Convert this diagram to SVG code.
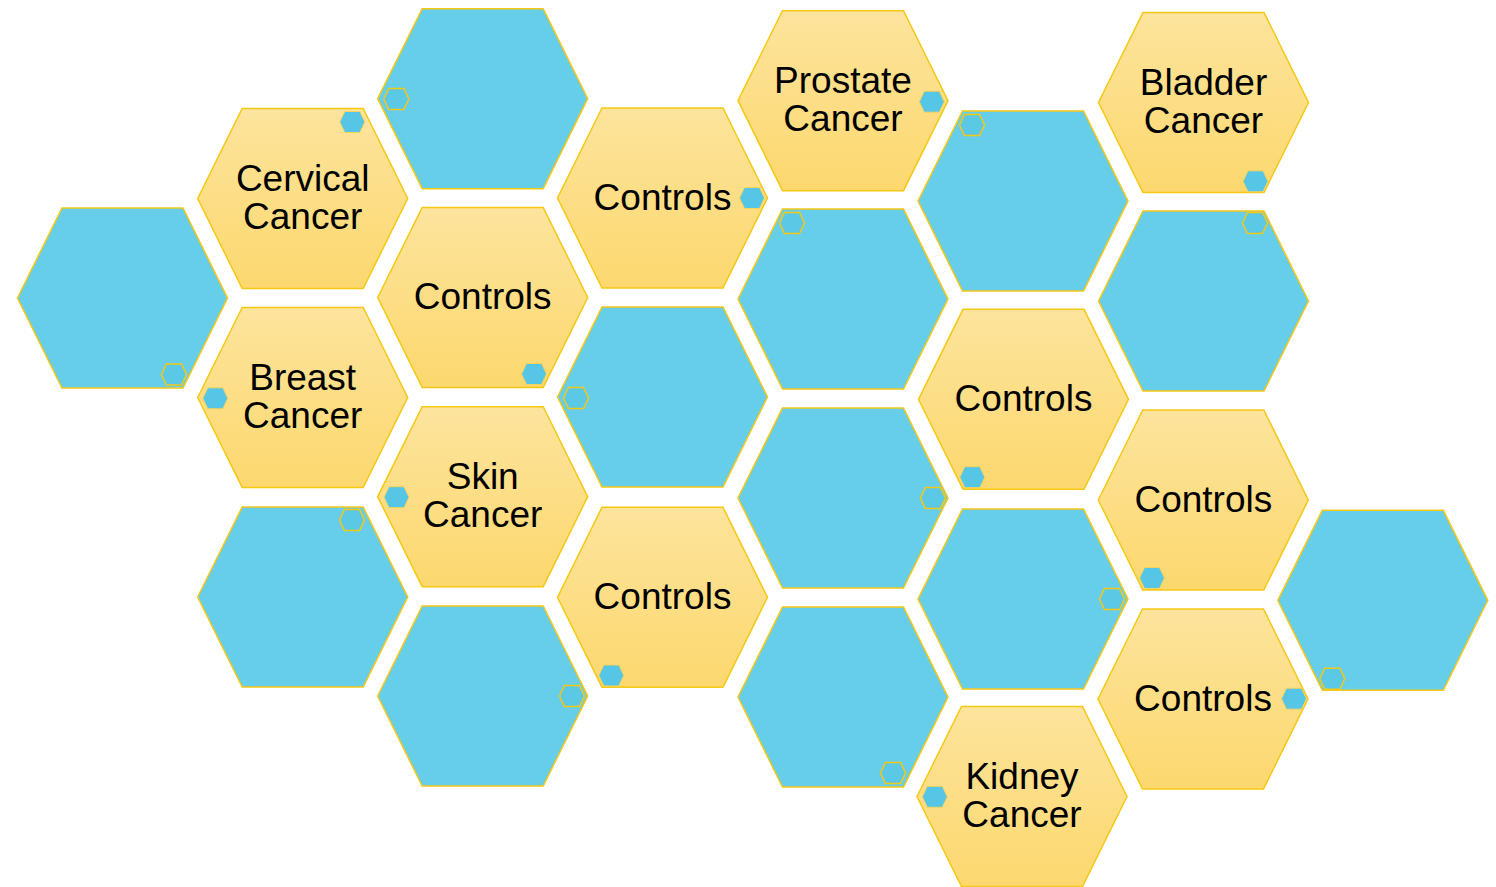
<svg xmlns="http://www.w3.org/2000/svg" xmlns:xlink="http://www.w3.org/1999/xlink" width="1496" height="887" viewBox="0 0 1496 887">
<style>
.b{fill:#66CEE8;stroke:#F5C814;stroke-width:1.5}
.y{fill:url(#yg);stroke:#F5C814;stroke-width:1.5}
.so{fill:#5BC8E6;stroke:#F5C814;stroke-width:1.5}
.sf{fill:#55C6E6;stroke:#F8D35A;stroke-width:1}
text{font-family:"Liberation Sans",Arial,sans-serif;font-size:37px;fill:#000;text-anchor:middle}
</style>
<defs>
<linearGradient id="yg" x1="0" y1="0" x2="0" y2="1">
<stop offset="0" stop-color="#FDE49D"/>
<stop offset="1" stop-color="#FCD86E"/>
</linearGradient>
<path id="hx" d="M-105,0 L-60.5,-90 L60.5,-90 L105,0 L60.5,90 L-60.5,90 Z"/>
<path id="sh" d="M-12.5,0 L-7.5,-10.5 L7.5,-10.5 L12.5,0 L7.5,10.5 L-7.5,10.5 Z"/>
</defs>
<rect width="1496" height="887" fill="#fff"/>
<g id="connectors"/>

<g id="n-c0-blue"><use xlink:href="#hx" class="b" x="122.5" y="298"/><use xlink:href="#sh" class="so" x="174" y="374.5"/></g>

<g id="n-cervical"><use xlink:href="#hx" class="y" x="302.7" y="198.5"/><use xlink:href="#sh" class="sf" x="352.3" y="122"/><text x="302.7" y="190.5">Cervical</text><text x="302.7" y="229">Cancer</text></g>
<g id="n-breast"><use xlink:href="#hx" class="y" x="302.7" y="397.5"/><use xlink:href="#sh" class="sf" x="215.3" y="398.3"/><text x="302.7" y="389.5">Breast</text><text x="302.7" y="428">Cancer</text></g>
<g id="n-c1-blue"><use xlink:href="#hx" class="b" x="302.7" y="597"/><use xlink:href="#sh" class="so" x="352" y="520"/></g>

<g id="n-c2-blue-top"><use xlink:href="#hx" class="b" x="482.7" y="98.7"/><use xlink:href="#sh" class="so" x="396.3" y="99"/></g>
<g id="n-controls-1"><use xlink:href="#hx" class="y" x="482.7" y="297.5"/><use xlink:href="#sh" class="sf" x="534" y="374"/><text x="482.7" y="309">Controls</text></g>
<g id="n-skin"><use xlink:href="#hx" class="y" x="482.7" y="496.7"/><use xlink:href="#sh" class="sf" x="396.5" y="497.2"/><text x="482.7" y="488.5">Skin</text><text x="482.7" y="527">Cancer</text></g>
<g id="n-c2-blue-bottom"><use xlink:href="#hx" class="b" x="482.7" y="696"/><use xlink:href="#sh" class="so" x="572" y="696"/></g>

<g id="n-controls-2"><use xlink:href="#hx" class="y" x="662.5" y="198"/><use xlink:href="#sh" class="sf" x="752" y="198"/><text x="662.5" y="209.5">Controls</text></g>
<g id="n-c3-blue"><use xlink:href="#hx" class="b" x="662.5" y="397"/><use xlink:href="#sh" class="so" x="576" y="398"/></g>
<g id="n-controls-3"><use xlink:href="#hx" class="y" x="662.5" y="597.3"/><use xlink:href="#sh" class="sf" x="611.3" y="675.5"/><text x="662.5" y="609">Controls</text></g>

<g id="n-prostate"><use xlink:href="#hx" class="y" x="843" y="100.7"/><use xlink:href="#sh" class="sf" x="931.8" y="101.7"/><text x="843" y="92.5">Prostate</text><text x="843" y="131">Cancer</text></g>
<g id="n-c4-blue-1"><use xlink:href="#hx" class="b" x="843" y="299"/><use xlink:href="#sh" class="so" x="792" y="223"/></g>
<g id="n-c4-blue-2"><use xlink:href="#hx" class="b" x="843" y="498"/><use xlink:href="#sh" class="so" x="933" y="498"/></g>
<g id="n-c4-blue-3"><use xlink:href="#hx" class="b" x="843" y="697"/><use xlink:href="#sh" class="so" x="893" y="773"/></g>

<g id="n-c5-blue-1"><use xlink:href="#hx" class="b" x="1023" y="201"/><use xlink:href="#sh" class="so" x="972" y="125"/></g>
<g id="n-controls-4"><use xlink:href="#hx" class="y" x="1023.5" y="399.3"/><use xlink:href="#sh" class="sf" x="972.3" y="477.2"/><text x="1023.5" y="411">Controls</text></g>
<g id="n-c5-blue-2"><use xlink:href="#hx" class="b" x="1023" y="599"/><use xlink:href="#sh" class="so" x="1112" y="599"/></g>
<g id="n-kidney"><use xlink:href="#hx" class="y" x="1022" y="796.5"/><use xlink:href="#sh" class="sf" x="934.8" y="796.8"/><text x="1022" y="788.5">Kidney</text><text x="1022" y="827">Cancer</text></g>

<g id="n-bladder"><use xlink:href="#hx" class="y" x="1203.5" y="102.5"/><use xlink:href="#sh" class="sf" x="1255.5" y="181.3"/><text x="1203.5" y="94.5">Bladder</text><text x="1203.5" y="133">Cancer</text></g>
<g id="n-c6-blue"><use xlink:href="#hx" class="b" x="1203.5" y="301"/><use xlink:href="#sh" class="so" x="1255" y="223"/></g>
<g id="n-controls-5"><use xlink:href="#hx" class="y" x="1203.3" y="500"/><use xlink:href="#sh" class="sf" x="1152" y="578"/><text x="1203.3" y="511.5">Controls</text></g>
<g id="n-controls-6"><use xlink:href="#hx" class="y" x="1203" y="699"/><use xlink:href="#sh" class="sf" x="1294" y="698.7"/><text x="1203" y="710.5">Controls</text></g>

<g id="n-c7-blue"><use xlink:href="#hx" class="b" x="1382.8" y="600.3"/><use xlink:href="#sh" class="so" x="1332.3" y="678.7"/></g>
</svg>
